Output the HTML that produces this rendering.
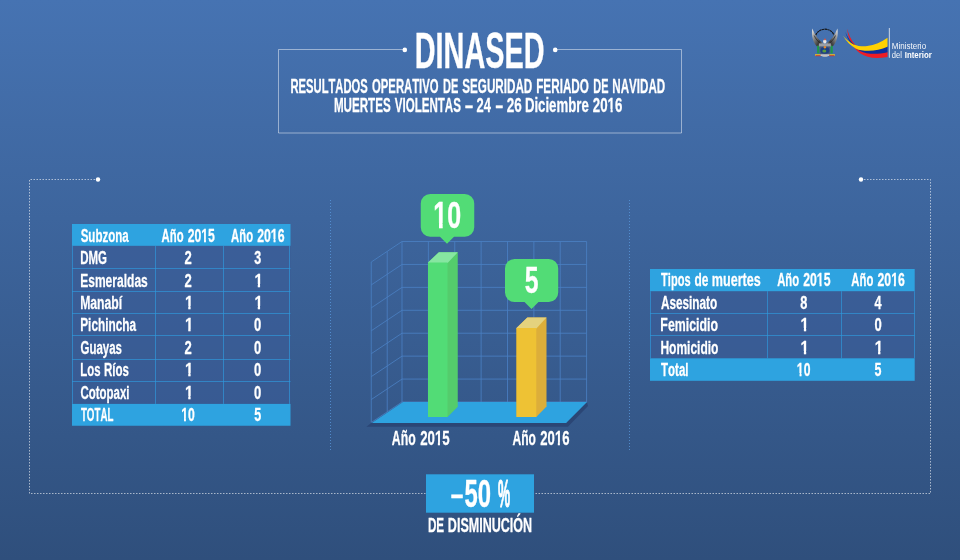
<!DOCTYPE html>
<html lang="es">
<head>
<meta charset="utf-8">
<title>DINASED</title>
<style>
html,body{margin:0;padding:0;}
body{width:960px;height:560px;overflow:hidden;background:#3b609b;}
#page{position:relative;width:960px;height:560px;background:linear-gradient(180deg,#4673b2 0%,#2f4f7c 100%);}
svg{position:absolute;left:0;top:0;display:block;}
svg text{font-family:"Liberation Sans",sans-serif;font-kerning:none;}
svg text.b{stroke:#fff;stroke-width:0.35px;stroke-linejoin:round;}
svg text.s{stroke:#fff;stroke-width:0.28px;stroke-linejoin:round;}
</style>
</head>
<body>
<div id="page">
<svg width="960" height="560" viewBox="0 0 960 560">
<g fill="none" stroke="#fff" stroke-opacity="0.47" stroke-width="1">
<path d="M404.5 49.5H278.5V133H681.5V49.5H555.5"/>
</g>
<circle cx="404.8" cy="49.9" r="2.3" fill="#fff"/>
<circle cx="555.2" cy="49.9" r="2.3" fill="#fff"/>
<text class="b" x="414.77" y="68.00" font-size="49.71" font-weight="bold" fill="#fff" textLength="129.74" lengthAdjust="spacingAndGlyphs">DINASED</text>
<text class="s" y="92.75" font-size="20.06" font-weight="bold" fill="#fff"> <tspan x="290.50" textLength="77.24" lengthAdjust="spacingAndGlyphs">RESULTADOS</tspan> <tspan x="372.04" textLength="66.54" lengthAdjust="spacingAndGlyphs">OPERATIVO</tspan> <tspan x="443.01" textLength="15.32" lengthAdjust="spacingAndGlyphs">DE</tspan> <tspan x="462.26" textLength="70.03" lengthAdjust="spacingAndGlyphs">SEGURIDAD</tspan> <tspan x="536.22" textLength="52.67" lengthAdjust="spacingAndGlyphs">FERIADO</tspan> <tspan x="593.37" textLength="15.16" lengthAdjust="spacingAndGlyphs">DE</tspan> <tspan x="612.32" textLength="52.86" lengthAdjust="spacingAndGlyphs">NAVIDAD</tspan> </text>
<clipPath id="k1"><path clip-rule="evenodd" d="M0 0H960V560H0ZM607.47 109.00H610.59V113.80H607.47ZM612.65 109.00H615.60V113.80H612.65Z"/></clipPath>
<text class="s" y="111.80" font-size="20.20" font-weight="bold" fill="#fff" clip-path="url(#k1)"> <tspan x="333.92" textLength="56.73" lengthAdjust="spacingAndGlyphs">MUERTES</tspan> <tspan x="394.72" textLength="66.23" lengthAdjust="spacingAndGlyphs">VIOLENTAS</tspan> <tspan x="464.54" textLength="9.05" lengthAdjust="spacingAndGlyphs">-</tspan> <tspan x="476.55" textLength="14.42" lengthAdjust="spacingAndGlyphs">24</tspan> <tspan x="495.10" textLength="8.53" lengthAdjust="spacingAndGlyphs">-</tspan> <tspan x="506.83" textLength="15.06" lengthAdjust="spacingAndGlyphs">26</tspan> <tspan x="524.92" textLength="63.83" lengthAdjust="spacingAndGlyphs">Diciembre</tspan> <tspan x="592.84" textLength="29.54" lengthAdjust="spacingAndGlyphs">2016</tspan> </text>
<g fill="none" stroke="#fff" stroke-opacity="0.58" stroke-width="1" stroke-dasharray="1.5 1.5">
<path d="M98 179.5H29.5V493.5H426"/>
<path d="M861 179.5H930.5V493.5H534"/>
</g>
<circle cx="98" cy="179.5" r="2.2" fill="#fff"/>
<circle cx="861" cy="179.5" r="2.2" fill="#fff"/>
<g fill="none" stroke="#5b9be0" stroke-opacity="0.75" stroke-width="1" stroke-dasharray="1 2">
<path d="M330.5 200V452"/>
<path d="M629.5 200V452"/>
</g>
<rect x="72" y="245.80" width="218.5" height="158.10" fill="#3a5c97" fill-opacity="0.6"/>
<g stroke="#2f9ade" stroke-opacity="0.7" stroke-width="0.95" fill="none">
<path d="M72 268.5H290.5"/>
<path d="M72 291.5H290.5"/>
<path d="M72 313.5H290.5"/>
<path d="M72 335.5H290.5"/>
<path d="M72 359.5H290.5"/>
<path d="M72 381.5H290.5"/>
<path d="M155.5 245.80V403.90"/>
<path d="M223.5 245.80V403.90"/>
<path d="M72.5 245.80V403.90"/>
<path d="M289.5 245.80V403.90"/>
</g>
<rect x="72" y="224.00" width="218.5" height="21.80" fill="#2ea3e0"/>
<rect x="72" y="403.90" width="218.5" height="21.85" fill="#2ea3e0"/>
<text class="s" x="80.67" y="241.70" font-size="18.75" font-weight="bold" fill="#fff" textLength="48.06" lengthAdjust="spacingAndGlyphs">Subzona</text>
<clipPath id="k2"><path clip-rule="evenodd" d="M0 0H960V560H0ZM201.16 239.00H204.02V243.70H201.16ZM205.94 239.00H208.64V243.70H205.94Z"/></clipPath>
<text class="s" y="241.70" font-size="18.75" font-weight="bold" fill="#fff" clip-path="url(#k2)"> <tspan x="161.57" textLength="21.98" lengthAdjust="spacingAndGlyphs">Año</tspan> <tspan x="187.68" textLength="27.21" lengthAdjust="spacingAndGlyphs">2015</tspan> </text>
<clipPath id="k3"><path clip-rule="evenodd" d="M0 0H960V560H0ZM270.71 239.00H273.58V243.70H270.71ZM275.51 239.00H278.22V243.70H275.51Z"/></clipPath>
<text class="s" y="241.70" font-size="18.75" font-weight="bold" fill="#fff" clip-path="url(#k3)"> <tspan x="231.07" textLength="21.98" lengthAdjust="spacingAndGlyphs">Año</tspan> <tspan x="257.17" textLength="27.32" lengthAdjust="spacingAndGlyphs">2016</tspan> </text>
<text class="s" x="80.23" y="264.10" font-size="18.75" font-weight="bold" fill="#fff" textLength="26.78" lengthAdjust="spacingAndGlyphs">DMG</text>
<text class="s" x="184.60" y="264.10" font-size="18.75" font-weight="bold" fill="#fff" textLength="7.28" lengthAdjust="spacingAndGlyphs">2</text>
<text class="s" x="254.31" y="264.10" font-size="18.75" font-weight="bold" fill="#fff" textLength="6.94" lengthAdjust="spacingAndGlyphs">3</text>
<text class="s" x="80.19" y="286.50" font-size="18.75" font-weight="bold" fill="#fff" textLength="67.60" lengthAdjust="spacingAndGlyphs">Esmeraldas</text>
<text class="s" x="184.60" y="286.50" font-size="18.75" font-weight="bold" fill="#fff" textLength="7.28" lengthAdjust="spacingAndGlyphs">2</text>
<clipPath id="k4"><path clip-rule="evenodd" d="M0 0H960V560H0ZM254.28 284.00H257.79V288.50H254.28ZM260.07 284.00H263.39V288.50H260.07Z"/></clipPath>
<text class="s" x="254.43" y="286.50" font-size="18.75" font-weight="bold" fill="#fff" textLength="8.28" lengthAdjust="spacingAndGlyphs" clip-path="url(#k4)">1</text>
<text class="s" x="80.18" y="308.90" font-size="18.75" font-weight="bold" fill="#fff" textLength="41.99" lengthAdjust="spacingAndGlyphs">Manabí</text>
<clipPath id="k5"><path clip-rule="evenodd" d="M0 0H960V560H0ZM184.78 306.00H188.29V310.90H184.78ZM190.57 306.00H193.89V310.90H190.57Z"/></clipPath>
<text class="s" x="184.93" y="308.90" font-size="18.75" font-weight="bold" fill="#fff" textLength="8.28" lengthAdjust="spacingAndGlyphs" clip-path="url(#k5)">1</text>
<clipPath id="k6"><path clip-rule="evenodd" d="M0 0H960V560H0ZM254.28 306.00H257.79V310.90H254.28ZM260.07 306.00H263.39V310.90H260.07Z"/></clipPath>
<text class="s" x="254.43" y="308.90" font-size="18.75" font-weight="bold" fill="#fff" textLength="8.28" lengthAdjust="spacingAndGlyphs" clip-path="url(#k6)">1</text>
<text class="s" x="80.21" y="331.30" font-size="18.75" font-weight="bold" fill="#fff" textLength="55.92" lengthAdjust="spacingAndGlyphs">Pichincha</text>
<clipPath id="k7"><path clip-rule="evenodd" d="M0 0H960V560H0ZM184.78 329.00H188.29V333.30H184.78ZM190.57 329.00H193.89V333.30H190.57Z"/></clipPath>
<text class="s" x="184.93" y="331.30" font-size="18.75" font-weight="bold" fill="#fff" textLength="8.28" lengthAdjust="spacingAndGlyphs" clip-path="url(#k7)">1</text>
<text class="s" x="254.08" y="331.30" font-size="18.75" font-weight="bold" fill="#fff" textLength="7.25" lengthAdjust="spacingAndGlyphs">0</text>
<text class="s" x="80.53" y="353.70" font-size="18.75" font-weight="bold" fill="#fff" textLength="41.44" lengthAdjust="spacingAndGlyphs">Guayas</text>
<text class="s" x="184.60" y="353.70" font-size="18.75" font-weight="bold" fill="#fff" textLength="7.28" lengthAdjust="spacingAndGlyphs">2</text>
<text class="s" x="254.08" y="353.70" font-size="18.75" font-weight="bold" fill="#fff" textLength="7.25" lengthAdjust="spacingAndGlyphs">0</text>
<text class="s" y="376.10" font-size="18.75" font-weight="bold" fill="#fff"> <tspan x="80.24" textLength="20.23" lengthAdjust="spacingAndGlyphs">Los</tspan> <tspan x="103.98" textLength="24.99" lengthAdjust="spacingAndGlyphs">Ríos</tspan> </text>
<clipPath id="k8"><path clip-rule="evenodd" d="M0 0H960V560H0ZM184.78 373.00H188.29V378.10H184.78ZM190.57 373.00H193.89V378.10H190.57Z"/></clipPath>
<text class="s" x="184.93" y="376.10" font-size="18.75" font-weight="bold" fill="#fff" textLength="8.28" lengthAdjust="spacingAndGlyphs" clip-path="url(#k8)">1</text>
<text class="s" x="254.08" y="376.10" font-size="18.75" font-weight="bold" fill="#fff" textLength="7.25" lengthAdjust="spacingAndGlyphs">0</text>
<text class="s" x="80.53" y="398.50" font-size="18.75" font-weight="bold" fill="#fff" textLength="48.98" lengthAdjust="spacingAndGlyphs">Cotopaxi</text>
<clipPath id="k9"><path clip-rule="evenodd" d="M0 0H960V560H0ZM184.78 396.00H188.29V400.50H184.78ZM190.57 396.00H193.89V400.50H190.57Z"/></clipPath>
<text class="s" x="184.93" y="398.50" font-size="18.75" font-weight="bold" fill="#fff" textLength="8.28" lengthAdjust="spacingAndGlyphs" clip-path="url(#k9)">1</text>
<text class="s" x="254.08" y="398.50" font-size="18.75" font-weight="bold" fill="#fff" textLength="7.25" lengthAdjust="spacingAndGlyphs">0</text>
<text class="s" x="80.89" y="420.90" font-size="18.75" font-weight="bold" fill="#fff" textLength="32.51" lengthAdjust="spacingAndGlyphs">TOTAL</text>
<clipPath id="k10"><path clip-rule="evenodd" d="M0 0H960V560H0ZM181.14 418.00H183.99V422.90H181.14ZM185.90 418.00H188.59V422.90H185.90Z"/></clipPath>
<text class="s" x="181.27" y="420.90" font-size="18.75" font-weight="bold" fill="#fff" textLength="13.53" lengthAdjust="spacingAndGlyphs" clip-path="url(#k10)">10</text>
<text class="s" x="254.22" y="420.90" font-size="18.75" font-weight="bold" fill="#fff" textLength="6.93" lengthAdjust="spacingAndGlyphs">5</text>
<rect x="650" y="291.20" width="264.70000000000005" height="67.10" fill="#3a5c97" fill-opacity="0.6"/>
<g stroke="#2f9ade" stroke-opacity="0.7" stroke-width="0.95" fill="none">
<path d="M650 313.5H914.7"/>
<path d="M650 335.5H914.7"/>
<path d="M767.5 291.20V358.30"/>
<path d="M841.5 291.20V358.30"/>
<path d="M650.5 291.20V358.30"/>
<path d="M914.5 291.20V358.30"/>
</g>
<rect x="650" y="269.00" width="264.70000000000005" height="22.20" fill="#2ea3e0"/>
<rect x="650" y="358.30" width="264.70000000000005" height="22.50" fill="#2ea3e0"/>
<text class="s" y="286.40" font-size="18.75" font-weight="bold" fill="#fff"> <tspan x="661.08" textLength="29.44" lengthAdjust="spacingAndGlyphs">Tipos</tspan> <tspan x="694.58" textLength="13.92" lengthAdjust="spacingAndGlyphs">de</tspan> <tspan x="711.77" textLength="48.94" lengthAdjust="spacingAndGlyphs">muertes</tspan> </text>
<clipPath id="k11"><path clip-rule="evenodd" d="M0 0H960V560H0ZM816.76 284.00H819.62V288.40H816.76ZM821.54 284.00H824.24V288.40H821.54Z"/></clipPath>
<text class="s" y="286.40" font-size="18.75" font-weight="bold" fill="#fff" clip-path="url(#k11)"> <tspan x="777.17" textLength="21.98" lengthAdjust="spacingAndGlyphs">Año</tspan> <tspan x="803.28" textLength="27.21" lengthAdjust="spacingAndGlyphs">2015</tspan> </text>
<clipPath id="k12"><path clip-rule="evenodd" d="M0 0H960V560H0ZM891.01 284.00H893.88V288.40H891.01ZM895.81 284.00H898.52V288.40H895.81Z"/></clipPath>
<text class="s" y="286.40" font-size="18.75" font-weight="bold" fill="#fff" clip-path="url(#k12)"> <tspan x="851.37" textLength="21.98" lengthAdjust="spacingAndGlyphs">Año</tspan> <tspan x="877.47" textLength="27.32" lengthAdjust="spacingAndGlyphs">2016</tspan> </text>
<text class="s" x="660.91" y="308.80" font-size="18.75" font-weight="bold" fill="#fff" textLength="56.35" lengthAdjust="spacingAndGlyphs">Asesinato</text>
<text class="s" x="800.24" y="308.80" font-size="18.75" font-weight="bold" fill="#fff" textLength="7.10" lengthAdjust="spacingAndGlyphs">8</text>
<text class="s" x="874.41" y="308.80" font-size="18.75" font-weight="bold" fill="#fff" textLength="7.06" lengthAdjust="spacingAndGlyphs">4</text>
<text class="s" x="660.37" y="331.20" font-size="18.75" font-weight="bold" fill="#fff" textLength="57.61" lengthAdjust="spacingAndGlyphs">Femicidio</text>
<clipPath id="k13"><path clip-rule="evenodd" d="M0 0H960V560H0ZM800.38 328.00H803.89V333.20H800.38ZM806.17 328.00H809.49V333.20H806.17Z"/></clipPath>
<text class="s" x="800.53" y="331.20" font-size="18.75" font-weight="bold" fill="#fff" textLength="8.28" lengthAdjust="spacingAndGlyphs" clip-path="url(#k13)">1</text>
<text class="s" x="874.38" y="331.20" font-size="18.75" font-weight="bold" fill="#fff" textLength="7.25" lengthAdjust="spacingAndGlyphs">0</text>
<text class="s" x="660.40" y="353.60" font-size="18.75" font-weight="bold" fill="#fff" textLength="58.07" lengthAdjust="spacingAndGlyphs">Homicidio</text>
<clipPath id="k14"><path clip-rule="evenodd" d="M0 0H960V560H0ZM800.38 351.00H803.89V355.60H800.38ZM806.17 351.00H809.49V355.60H806.17Z"/></clipPath>
<text class="s" x="800.53" y="353.60" font-size="18.75" font-weight="bold" fill="#fff" textLength="8.28" lengthAdjust="spacingAndGlyphs" clip-path="url(#k14)">1</text>
<clipPath id="k15"><path clip-rule="evenodd" d="M0 0H960V560H0ZM874.58 351.00H878.09V355.60H874.58ZM880.37 351.00H883.69V355.60H880.37Z"/></clipPath>
<text class="s" x="874.73" y="353.60" font-size="18.75" font-weight="bold" fill="#fff" textLength="8.28" lengthAdjust="spacingAndGlyphs" clip-path="url(#k15)">1</text>
<text class="s" x="661.07" y="376.00" font-size="18.75" font-weight="bold" fill="#fff" textLength="27.44" lengthAdjust="spacingAndGlyphs">Total</text>
<clipPath id="k16"><path clip-rule="evenodd" d="M0 0H960V560H0ZM796.74 373.00H799.59V378.00H796.74ZM801.50 373.00H804.19V378.00H801.50Z"/></clipPath>
<text class="s" x="796.87" y="376.00" font-size="18.75" font-weight="bold" fill="#fff" textLength="13.53" lengthAdjust="spacingAndGlyphs" clip-path="url(#k16)">10</text>
<text class="s" x="874.52" y="376.00" font-size="18.75" font-weight="bold" fill="#fff" textLength="6.93" lengthAdjust="spacingAndGlyphs">5</text>
<g stroke="#4a80c3" stroke-opacity="0.82" stroke-width="1" fill="none">
<path d="M402.00 241.5V402"/>
<path d="M428.37 241.5V402"/>
<path d="M454.74 241.5V402"/>
<path d="M481.11 241.5V402"/>
<path d="M507.49 241.5V402"/>
<path d="M533.86 241.5V402"/>
<path d="M560.23 241.5V402"/>
<path d="M586.60 241.5V402"/>
<path d="M586.6 241.50H402l-30.75 20.5"/>
<path d="M586.6 264.43H402l-30.75 20.5"/>
<path d="M586.6 287.36H402l-30.75 20.5"/>
<path d="M586.6 310.29H402l-30.75 20.5"/>
<path d="M586.6 333.21H402l-30.75 20.5"/>
<path d="M586.6 356.14H402l-30.75 20.5"/>
<path d="M586.6 379.07H402l-30.75 20.5"/>
<path d="M586.6 402.00H402l-30.75 20.5"/>
<path d="M371.25 262.0V422.5"/>
<path d="M387.225 251.35V411.85"/>
</g>
<path d="M371.8 422.5L366.4 426.8H567.9L588 406L587 402L566.1 422.5Z" fill="#2b4675"/>
<path d="M403 402H587L566.1 422.9H371.8Z" fill="#2ea3e0"/>
<path d="M428 262.5L438.85 252.25H457.75V406.75L447.5 417H428Z" fill="#54cc6c"/>
<path d="M428 263.0L428 262.5L438.85 252.25H457.75L447.85 262.85L447.5 263.0Z" fill="#86e6a1"/>
<path d="M428 262.5H447.5V417H428Z" fill="#52dc76"/>
<path d="M516.5 328L527.35 317.5H546.5V406.5L536.25 417H516.5Z" fill="#dcae3a"/>
<path d="M516.5 328.5L516.5 328L527.35 317.5H546.5L536.6 328.35L536.25 328.5Z" fill="#e4d27e"/>
<path d="M516.5 328H536.25V417H516.5Z" fill="#eec234"/>
<path d="M430.25 194H464.75A9.5 9.5 0 0 1 474.25 203.5V227.25A9.5 9.5 0 0 1 464.75 236.75H454L447 243.75L440 236.75H430.25A9.5 9.5 0 0 1 420.75 227.25V203.5A9.5 9.5 0 0 1 430.25 194Z" fill="#52dc76"/>
<clipPath id="k17"><path clip-rule="evenodd" d="M0 0H960V560H0ZM433.04 223.00H438.99V230.00H433.04ZM442.65 223.00H448.29V230.00H442.65Z"/></clipPath>
<text class="b" x="433.30" y="228.00" font-size="37.79" font-weight="bold" fill="#fff" textLength="27.73" lengthAdjust="spacingAndGlyphs" clip-path="url(#k17)">10</text>
<path d="M514.5 259H548.75A9.5 9.5 0 0 1 558.25 268.5V292.5A9.5 9.5 0 0 1 548.75 302H538.5L531.5 309L524.5 302H514.5A9.5 9.5 0 0 1 505 292.5V268.5A9.5 9.5 0 0 1 514.5 259Z" fill="#52dc76"/>
<text class="b" x="524.71" y="292.50" font-size="37.79" font-weight="bold" fill="#fff" textLength="13.75" lengthAdjust="spacingAndGlyphs">5</text>
<clipPath id="k18"><path clip-rule="evenodd" d="M0 0H960V560H0ZM434.76 442.00H437.88V447.00H434.76ZM439.94 442.00H442.89V447.00H439.94Z"/></clipPath>
<text class="s" y="445.00" font-size="20.79" font-weight="bold" fill="#fff" clip-path="url(#k18)"> <tspan x="391.79" textLength="23.86" lengthAdjust="spacingAndGlyphs">Año</tspan> <tspan x="420.13" textLength="29.54" lengthAdjust="spacingAndGlyphs">2015</tspan> </text>
<clipPath id="k19"><path clip-rule="evenodd" d="M0 0H960V560H0ZM554.76 442.00H557.83V447.00H554.76ZM559.87 442.00H562.78V447.00H559.87Z"/></clipPath>
<text class="s" y="445.00" font-size="20.79" font-weight="bold" fill="#fff" clip-path="url(#k19)"> <tspan x="512.45" textLength="23.46" lengthAdjust="spacingAndGlyphs">Año</tspan> <tspan x="540.31" textLength="29.16" lengthAdjust="spacingAndGlyphs">2016</tspan> </text>
<rect x="426" y="474.3" width="108" height="38.4" fill="#2ea3e0"/>
<text class="b" y="506.70" font-size="38.23" font-weight="bold" fill="#fff"> <tspan x="450.04" textLength="14.16" lengthAdjust="spacingAndGlyphs" y="503.53" font-size="28.29">-</tspan><tspan x="464.47" textLength="26.51" lengthAdjust="spacingAndGlyphs" y="506.70">50</tspan> <tspan x="497.96" textLength="12.10" lengthAdjust="spacingAndGlyphs" stroke-width="1.1" y="506.70">%</tspan> </text>
<text class="s" y="531.70" font-size="20.93" font-weight="bold" fill="#fff"> <tspan x="427.92" textLength="16.24" lengthAdjust="spacingAndGlyphs">DE</tspan> <tspan x="447.86" textLength="84.28" lengthAdjust="spacingAndGlyphs">DISMINUCIÓN</tspan> </text>
<defs>
<linearGradient id="wl" x1="0" y1="0" x2="1" y2="1">
<stop offset="0" stop-color="#f2f2f2"/><stop offset="0.35" stop-color="#8f8f8f"/><stop offset="0.7" stop-color="#3c3c3c"/><stop offset="1" stop-color="#9a9a9a"/>
</linearGradient>
<linearGradient id="wr" x1="1" y1="0" x2="0" y2="1">
<stop offset="0" stop-color="#f2f2f2"/><stop offset="0.35" stop-color="#8f8f8f"/><stop offset="0.7" stop-color="#3c3c3c"/><stop offset="1" stop-color="#9a9a9a"/>
</linearGradient>
</defs>
<g id="crest">
<path d="M815.6 35.2C819.4 27.2 830.4 27.2 834.2 35.2" fill="none" stroke="#141414" stroke-width="1.15" stroke-dasharray="2.4 0.4"/>
<path d="M812.3 28.4C811.2 35 812.8 41.8 817 46.6H821.6L823 43.2C818.6 40 815 35.2 812.3 28.4Z" fill="url(#wl)"/>
<path d="M814.2 35.5C815.6 39 818.2 42 821.8 44.2" fill="none" stroke="#1e1e1e" stroke-width="0.9" stroke-opacity="0.75"/>
<path d="M837.4 28.4C838.5 35 836.9 41.8 832.7 46.6H828.1L826.7 43.2C831.1 40 834.7 35.2 837.4 28.4Z" fill="url(#wr)"/>
<path d="M835.5 35.5C834.1 39 831.5 42 827.9 44.2" fill="none" stroke="#1e1e1e" stroke-width="0.9" stroke-opacity="0.75"/>
<path d="M817.1 45.8H819.4V53.4H817.1Z" fill="#1f9a4a"/>
<path d="M830.4 45.8H832.7V53.4H830.4Z" fill="#1f9a4a"/>
<path d="M819 43.4H830.8V46.6H819Z" fill="#9b9fa6"/>
<path d="M819.6 46.4H830.2V52.2C830.2 54.6 827.4 55.6 824.9 56.2C822.4 55.6 819.6 54.6 819.6 52.2Z" fill="#4a5a7a"/>
<ellipse cx="824.9" cy="50.4" rx="4.5" ry="3.3" fill="#1c3f86"/>
<ellipse cx="824.3" cy="51" rx="2" ry="1.5" fill="#5a9a3c"/>
<circle cx="824.9" cy="47.2" r="1.2" fill="#e88a2a"/>
<ellipse cx="824.8" cy="41.6" rx="1.7" ry="2" fill="#ece8e4"/>
<circle cx="825" cy="39.4" r="0.9" fill="#d8503c"/>
<path d="M815 54.1H820.5V55.9H815Z" fill="#d9b92c"/>
<path d="M829.3 54.1H834.9V55.9H829.3Z" fill="#d9b92c"/>
<path d="M815.6 55.2H821V56.2H815.6Z" fill="#c43a3a"/>
<path d="M828.9 55.2H834.3V56.2H828.9Z" fill="#c43a3a"/>
<path d="M820.6 54.4H829.2V55.8H820.6Z" fill="#e6e2dc"/>
<path d="M821.6 55.8H828.3C828 57.4 821.9 57.4 821.6 55.8Z" fill="#aab0b8"/>
</g>
<g id="flag">
<path d="M847.1 28.6C848.6 34.5 851.2 40.6 855.5 45.2C862 51 876 52.5 887.5 51.5V56.9C876 58.9 867 58 860 53.2C852.5 47.8 848.2 39.4 847.1 28.6Z" fill="#ee1c25"/>
<path d="M845.4 32.1C847.6 37.2 850.6 42 855 45.6C862 49.5 876 49.5 887.5 46V52.2C877 54.6 867 54.4 860 50.9C852.5 46.8 847.6 40.4 845.4 32.1Z" fill="#0b2f9e"/>
<path d="M843 35.8C846.4 39.6 849.6 42.6 853.6 44.4C858 46.2 863 46.6 867.2 46.1C874.5 45.2 881.5 42 887.5 37.8V46.7C881.5 49.4 875 50.8 868.5 50.8C863.5 50.8 859 50.2 855.6 48.4C850.5 45.6 846.5 41.5 843 35.8Z" fill="#ffd100"/>
</g>
<path d="M889.4 28.1V57.7" stroke="#fff" stroke-opacity="0.6" stroke-width="1.2"/>
<text x="891.8" y="48.8" font-size="9.9" fill="#fff" fill-opacity="0.95" textLength="34.3" lengthAdjust="spacingAndGlyphs">Ministerio</text>
<text y="57.6" font-size="9.9" fill="#fff"><tspan x="891.8" fill-opacity="0.95" textLength="10.1" lengthAdjust="spacingAndGlyphs">del</tspan> <tspan x="904.75" font-weight="bold" textLength="27" lengthAdjust="spacingAndGlyphs">Interior</tspan></text>
</svg>
</div>
</body>
</html>
